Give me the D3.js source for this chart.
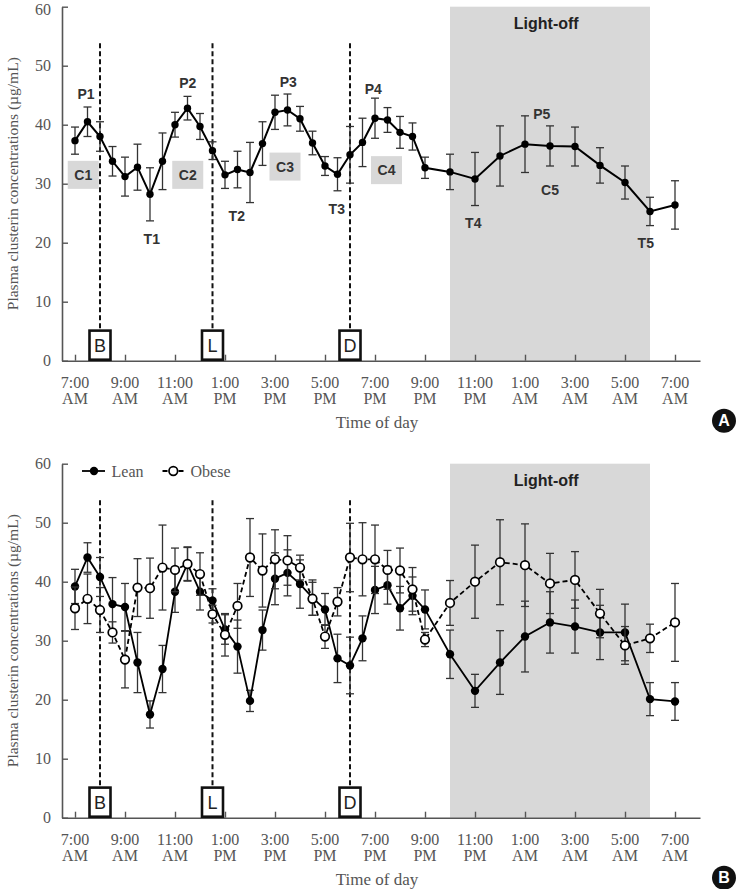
<!DOCTYPE html>
<html><head><meta charset="utf-8">
<script src="https://cdn.jsdelivr.net/npm/d3@7"></script>
<style>body{margin:0;background:#fff}svg{display:block}</style>
</head><body>
<svg id="c" width="736" height="889"></svg>
<script>
// ---- data ----
const times = [7,7.5,8,8.5,9,9.5,10,10.5,11,11.5,12,12.5,13,13.5,14,14.5,15,15.5,16,16.5,17,17.5,18,18.5,19,19.5,20,20.5,21,22,23,24,25,26,27,28,29,30,31];
const allMean = [37.3,40.5,38.0,33.8,31.2,32.8,28.2,33.8,40.0,42.8,39.7,35.6,31.5,32.4,31.9,36.8,42.1,42.5,41.0,36.9,33.0,31.6,34.9,37.0,41.1,40.8,38.7,38.0,32.7,32.0,30.8,34.7,36.7,36.4,36.3,33.1,30.2,25.3,26.4];
const allErr  = [2.3,2.5,2.5,2.5,3.3,3.9,4.5,4.8,2.1,2.0,2.2,1.5,2.3,3.1,5.1,3.7,2.9,2.7,2.1,2.0,1.6,2.8,4.8,4.1,3.4,2.1,2.7,2.3,1.8,3.0,4.5,5.1,4.8,3.4,3.3,3.0,2.8,2.4,4.1];
const leanMean = [39.2,44.1,40.8,36.2,35.7,26.3,17.5,25.2,38.3,43.0,38.3,36.8,31.9,29.0,19.8,31.8,40.5,41.5,39.6,37.3,35.3,27.0,25.8,30.4,38.6,39.4,35.5,37.6,35.3,27.7,21.5,26.3,30.7,33.1,32.4,31.4,31.4,20.1,19.7];
const leanErr  = [2.9,2.5,3.3,4.5,4.0,5.1,2.3,4.0,3.5,2.9,3.1,2.0,2.5,4.5,1.8,3.4,4.4,3.9,4.1,3.0,2.7,4.1,4.8,3.8,4.0,3.2,3.7,3.2,3.3,4.1,2.8,5.4,6.0,5.2,4.5,4.6,4.8,2.8,3.2];
const obeseMean = [35.5,37.1,35.2,31.4,26.8,39.0,38.9,42.4,42.0,43.0,41.3,34.5,31.0,35.9,44.1,41.9,43.8,43.6,42.4,37.1,30.7,36.6,44.1,43.8,43.8,42.0,41.9,38.7,30.2,36.4,40.0,43.3,42.8,39.7,40.3,34.6,29.2,30.4,33.1];
const obeseErr  = [3.6,4.2,3.8,1.8,4.8,4.9,5.1,7.2,3.7,2.8,3.6,1.5,3.6,3.8,6.6,6.2,5.0,4.2,2.1,2.8,2.0,2.4,5.8,6.2,5.8,3.3,3.8,3.7,1.2,3.8,6.2,7.2,7.0,5.1,4.8,4.1,3.2,2.4,6.6];

const xTickHours = [7,9,11,13,15,17,19,21,23,25,27,29,31];
const xTickTime = ["7:00","9:00","11:00","1:00","3:00","5:00","7:00","9:00","11:00","1:00","3:00","5:00","7:00"];
const xTickPeriod = ["AM","AM","AM","PM","PM","PM","PM","PM","PM","AM","AM","AM","AM"];
const yTicks = [0,10,20,30,40,50,60];

const mealTimes = [8,12.5,18];
const mealLabels = ["B","L","D"];
const lightOff = [22,30];

const peakLabels = ["P1","P2","P3","P4","P5"];
const peakT = [7.44,11.51,15.53,18.93,25.67];
const peakV = [45.2,47.0,47.3,46.0,41.9];
const troughLabels = ["T1","T2","T3","T4","T5"];
const troughT = [10.07,13.47,17.47,22.93,29.83];
const troughV = [20.6,24.6,25.7,23.3,19.9];
const cycleLabels = ["C1","C2","C3","C4","C5"];
const cycleT = [7.33,11.51,15.4,19.46,26.0];
const cycleV = [31.5,31.5,32.9,32.3,28.9];

// ---- drawing ----
const svg = d3.select("#c");
const SERIF = "'Liberation Serif','Times New Roman',serif";
const SANS = "'Liberation Sans',Arial,sans-serif";
const x = d3.scaleLinear().domain([6.48,32]).range([62,700]);

function panel(yTop, yBot, badge) {
  const y = d3.scaleLinear().domain([0,60]).range([yBot,yTop]);
  const g = svg.append("g");
  g.append("rect").attr("x",x(lightOff[0])).attr("y",y(60))
    .attr("width",x(lightOff[1])-x(lightOff[0])).attr("height",y(0)-y(60))
    .attr("fill","#d8d8d8");
  g.append("text").attr("x",x(25.85)).attr("y",y(57.25)).attr("dy","0.35em")
    .attr("text-anchor","middle").attr("font-family",SANS).attr("font-weight","bold")
    .attr("font-size",16).attr("fill","#222").text("Light-off");
  const xa = d3.axisBottom(x).tickValues(xTickHours).tickSizeInner(-6).tickSizeOuter(0).tickFormat("");
  const gx = g.append("g").attr("transform",`translate(0,${y(0)})`).call(xa);
  const ya = d3.axisLeft(y).tickValues(yTicks).tickSizeInner(-6).tickSizeOuter(0).tickPadding(11);
  const gy = g.append("g").attr("transform",`translate(${x(6.48)},0)`).call(ya);
  [gx,gy].forEach(a=>{
    a.select(".domain").attr("stroke","#555").attr("stroke-width",1.6);
    a.selectAll(".tick line").attr("stroke","#555").attr("stroke-width",1.4);
  });
  gy.selectAll(".tick text").attr("font-family",SERIF).attr("font-size",16).attr("fill","#555")
    .attr("dy", d => (d===60 && yTop<20) ? "0.5em" : "0.32em");
  const lab = g.append("g");
  xTickHours.forEach((h,i)=>{
    const t = lab.append("text").attr("x",x(h)).attr("y",y(0)+27)
      .attr("text-anchor","middle").attr("font-family",SERIF).attr("font-size",16).attr("fill","#555");
    t.append("tspan").attr("x",x(h)).text(xTickTime[i]);
    t.append("tspan").attr("x",x(h)).attr("dy",16).text(xTickPeriod[i]);
  });
  g.append("text").attr("x",377).attr("y",y(0)+67).attr("text-anchor","middle")
    .attr("font-family",SERIF).attr("font-size",17).attr("fill","#555").text("Time of day");
  g.append("text").attr("transform",`translate(13,${(y(0)+y(60))/2}) rotate(-90)`)
    .attr("dy","0.35em").attr("text-anchor","middle").attr("font-family",SERIF)
    .attr("font-size",15.5).attr("fill","#555").text("Plasma clusterin concentrations (\u00b5g/mL)");
  mealTimes.forEach((m,i)=>{
    g.append("line").attr("x1",x(m)).attr("x2",x(m)).attr("y1",y(53.8)).attr("y2",y(5))
      .attr("stroke","#111").attr("stroke-width",2).attr("stroke-dasharray","5,3");
    g.append("rect").attr("x",x(m)-10.5).attr("y",y(5.1)).attr("width",21).attr("height",y(0)-y(5.1)-1)
      .attr("fill","#fff").attr("stroke","#111").attr("stroke-width",2.6);
    g.append("text").attr("x",x(m)).attr("y",(y(5.1)+y(0))/2).attr("dy","0.36em")
      .attr("text-anchor","middle").attr("font-family",SANS).attr("font-size",18).attr("fill","#222").text(mealLabels[i]);
  });
  g.append("circle").attr("cx",724).attr("cy",y(0)+60).attr("r",12).attr("fill","#111");
  g.append("text").attr("x",724).attr("y",y(0)+60).attr("dy","0.36em").attr("text-anchor","middle")
    .attr("font-family",SANS).attr("font-weight","bold").attr("font-size",16).attr("fill","#fff").text(badge);
  return {g,y};
}

function series(g, y, mean, err, opt) {
  const data = times.map((t,i)=>({t, m:mean[i], e:err[i]}));
  const eb = g.append("g").attr("stroke","#333").attr("stroke-width",1.3);
  data.forEach(d=>{
    eb.append("line").attr("x1",x(d.t)).attr("x2",x(d.t)).attr("y1",y(d.m-d.e)).attr("y2",y(d.m+d.e));
    [d.m-d.e,d.m+d.e].forEach(v=>eb.append("line").attr("x1",x(d.t)-4).attr("x2",x(d.t)+4).attr("y1",y(v)).attr("y2",y(v)));
  });
  g.append("path").datum(data).attr("fill","none").attr("stroke","#000").attr("stroke-width",opt.lw)
    .attr("stroke-dasharray",opt.dash||null)
    .attr("d",d3.line().x(d=>x(d.t)).y(d=>y(d.m)));
  g.append("g").selectAll("circle").data(data).join("circle")
    .attr("cx",d=>x(d.t)).attr("cy",d=>y(d.m)).attr("r",opt.r)
    .attr("fill",opt.open?"#fff":"#000").attr("stroke","#000").attr("stroke-width",opt.open?1.7:0);
}

const A = panel(6.7, 360.7, "A");
series(A.g, A.y, allMean, allErr, {lw:2, r:3.7});
function labelText(g,y,txt,t,v){
  g.append("text").attr("x",x(t)).attr("y",y(v)).attr("dy","0.36em").attr("text-anchor","middle")
   .attr("font-family",SANS).attr("font-weight","bold").attr("font-size",14).attr("fill","#333").text(txt);
}
cycleLabels.forEach((c,i)=>{
  if (i<4) A.g.append("rect").attr("x",x(cycleT[i])-15.5).attr("y",A.y(cycleV[i])-14)
    .attr("width",31).attr("height",28).attr("fill","#d8d8d8");
  labelText(A.g,A.y,c,cycleT[i],cycleV[i]);
});
peakLabels.forEach((p,i)=>labelText(A.g,A.y,p,peakT[i],peakV[i]));
troughLabels.forEach((p,i)=>labelText(A.g,A.y,p,troughT[i],troughV[i]));

const B = panel(463.7, 817.7, "B");
series(B.g, B.y, leanMean, leanErr, {lw:1.8, r:4.2});
series(B.g, B.y, obeseMean, obeseErr, {lw:1.8, r:4.3, open:true, dash:"5,3"});
const lg = B.g.append("g");
lg.append("line").attr("x1",82).attr("x2",105).attr("y1",471).attr("y2",471).attr("stroke","#000").attr("stroke-width",1.8);
lg.append("circle").attr("cx",94).attr("cy",471).attr("r",4.2).attr("fill","#000");
lg.append("text").attr("x",111.5).attr("y",471).attr("dy","0.35em").attr("font-family",SERIF).attr("font-size",16).attr("fill","#555").text("Lean");
lg.append("line").attr("x1",162.5).attr("x2",186).attr("y1",471).attr("y2",471).attr("stroke","#000").attr("stroke-width",1.8).attr("stroke-dasharray","5,3");
lg.append("circle").attr("cx",173.3).attr("cy",471).attr("r",4.3).attr("fill","#fff").attr("stroke","#000").attr("stroke-width",1.7);
lg.append("text").attr("x",190.5).attr("y",471).attr("dy","0.35em").attr("font-family",SERIF).attr("font-size",16).attr("fill","#555").text("Obese");
</script>
</body></html>
